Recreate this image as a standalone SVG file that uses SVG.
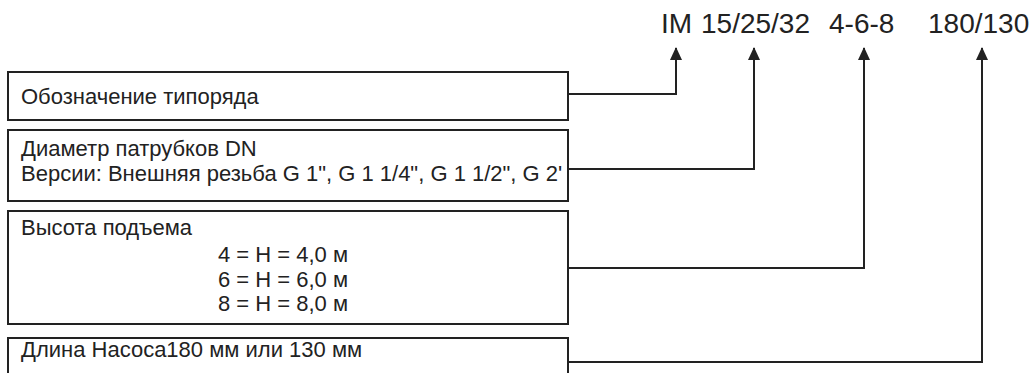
<svg xmlns="http://www.w3.org/2000/svg" width="1034" height="373" viewBox="0 0 1034 373">
<style>
.box{fill:#fff;stroke:#222;stroke-width:2}
.t{font-family:"Liberation Sans",Arial,sans-serif;font-size:22px;fill:#222}
.h{font-family:"Liberation Sans",Arial,sans-serif;font-size:28px;fill:#222}
.c{fill:none;stroke:#222;stroke-width:2}
</style>
<defs>
<marker id="ar" viewBox="0 0 13 12" refX="12" refY="6" markerWidth="13" markerHeight="12" markerUnits="userSpaceOnUse" orient="auto">
<path d="M0,0 L13,6 L0,12 Z" fill="#222"/>
</marker>
</defs>
<rect width="1034" height="373" fill="#fff"/>
<text class="h" y="33"><tspan x="661">IM</tspan><tspan x="701">15/25/32</tspan><tspan x="829">4-6-8</tspan><tspan x="928">180/130</tspan></text>
<g id="connectors">
<polyline class="c" points="568,94 676,94 676,48" marker-end="url(#ar)"/>
<polyline class="c" points="568,169 754,169 754,48" marker-end="url(#ar)"/>
<polyline class="c" points="568,268 864,268 864,48" marker-end="url(#ar)"/>
<polyline class="c" points="568,362 982,362 982,48" marker-end="url(#ar)"/>
</g>
<g id="node1">
<rect class="box" x="8" y="72" width="560" height="48"/>
<text class="t" x="21" y="104">Обозначение типоряда</text>
</g>
<g id="node2">
<rect class="box" x="8" y="130" width="560" height="71"/>
<text class="t" x="21" y="156">Диаметр патрубков DN</text>
<text class="t" x="21" y="181">Версии: Внешняя резьба G 1", G 1 1/4", G 1 1/2", G 2'</text>
</g>
<g id="node3">
<rect class="box" x="8" y="211" width="560" height="113"/>
<text class="t" x="21" y="235">Высота подъема</text>
<text class="t" x="218" y="262">4 = H = 4,0 м</text>
<text class="t" x="218" y="287">6 = H = 6,0 м</text>
<text class="t" x="218" y="311">8 = H = 8,0 м</text>
</g>
<g id="node4">
<rect class="box" x="8" y="338" width="560" height="45"/>
<text class="t" x="21" y="357">Длина Насоса180 мм или 130 мм</text>
</g>
</svg>
